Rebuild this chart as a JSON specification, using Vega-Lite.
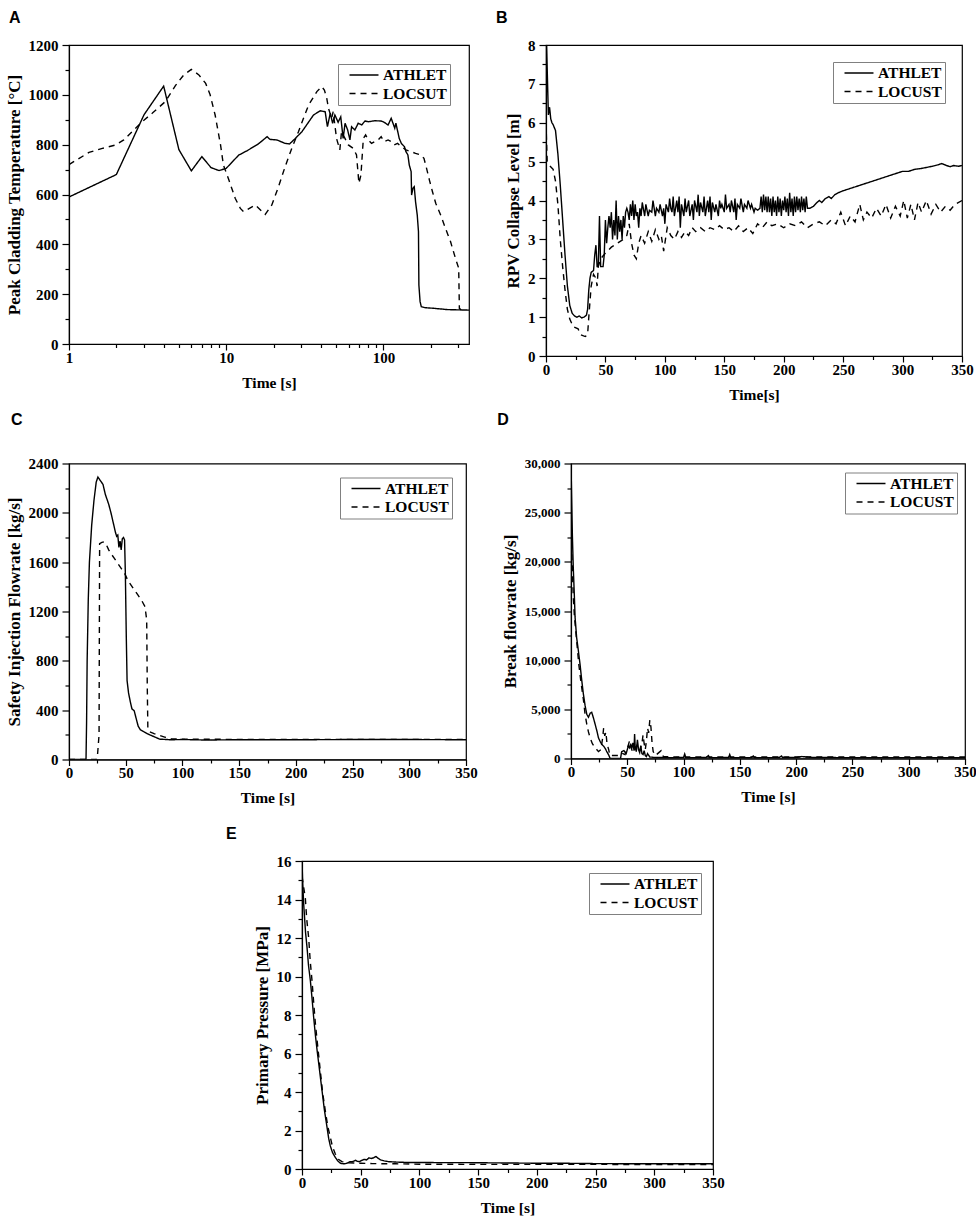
{
 "$schema": "https://vega.github.io/schema/vega-lite/v6.json",
 "background": "white",
 "padding": {"left": 4, "top": 9, "right": 0, "bottom": 0},
 "config": {
  "font": "Liberation Serif",
  "view": {"stroke": "black", "strokeWidth": 1.2},
  "axis": {"domainColor": "black", "domainWidth": 1.2, "tickColor": "black", "tickWidth": 1.2, "labelColor": "black", "titleColor": "black", "labelFont": "Liberation Serif", "titleFont": "Liberation Serif", "labelFontWeight": "bold", "titleFontWeight": "bold", "labelFontSize": 15, "grid": false, "labelFlush": false, "labelOverlap": false},
  "axisX": {"titlePadding": 10, "labelPadding": 0, "titleFontSize": 15.5},
  "axisY": {"titlePadding": 5, "labelPadding": 4, "titleFontSize": 17},
  "legend": {"strokeColor": "#808080", "strokeWidth": 1, "fillColor": "white", "padding": 3, "labelFont": "Liberation Serif", "labelFontWeight": "bold", "labelFontSize": 15.5, "labelColor": "black", "symbolType": "M-2,0H2", "symbolStrokeWidth": 1.5, "symbolSize": 210, "symbolOffset": 15, "labelOffset": 11, "rowPadding": 1.5, "orient": "top-right"},
  "title": {"font": "Liberation Sans", "fontSize": 16, "fontWeight": "bold", "anchor": "start", "frame": "bounds", "color": "black"},
  "line": {"color": "black", "strokeWidth": 1.4}
 },
 "datasets": {
  "A": [
   {"t":1,"v":590,"m":"ATHLET"},{"t":2,"v":680,"m":"ATHLET"},{"t":3,"v":920,"m":"ATHLET"},{"t":4,"v":1035,"m":"ATHLET"},{"t":5,"v":780,"m":"ATHLET"},{"t":6,"v":695,"m":"ATHLET"},{"t":7,"v":752,"m":"ATHLET"},{"t":8,"v":708,"m":"ATHLET"},{"t":9,"v":696,"m":"ATHLET"},{"t":10,"v":705,"m":"ATHLET"},{"t":12,"v":758,"m":"ATHLET"},{"t":13.6,"v":776,"m":"ATHLET"},{"t":16,"v":803,"m":"ATHLET"},{"t":18.2,"v":832,"m":"ATHLET"},{"t":19,"v":821,"m":"ATHLET"},{"t":21,"v":819,"m":"ATHLET"},{"t":23.7,"v":805,"m":"ATHLET"},{"t":25.3,"v":803,"m":"ATHLET"},{"t":27.5,"v":825,"m":"ATHLET"},{"t":30.3,"v":852,"m":"ATHLET"},{"t":35.9,"v":919,"m":"ATHLET"},{"t":39.6,"v":936,"m":"ATHLET"},{"t":42.6,"v":932,"m":"ATHLET"},{"t":44,"v":872,"m":"ATHLET"},{"t":45.9,"v":926,"m":"ATHLET"},{"t":47.5,"v":886,"m":"ATHLET"},{"t":49.1,"v":919,"m":"ATHLET"},{"t":51.5,"v":890,"m":"ATHLET"},{"t":53.5,"v":912,"m":"ATHLET"},{"t":55.4,"v":825,"m":"ATHLET"},{"t":57,"v":886,"m":"ATHLET"},{"t":59.2,"v":859,"m":"ATHLET"},{"t":61.2,"v":819,"m":"ATHLET"},{"t":62.7,"v":872,"m":"ATHLET"},{"t":65.8,"v":859,"m":"ATHLET"},{"t":69.1,"v":886,"m":"ATHLET"},{"t":72.7,"v":879,"m":"ATHLET"},{"t":76.3,"v":895,"m":"ATHLET"},{"t":80.3,"v":892,"m":"ATHLET"},{"t":88,"v":896,"m":"ATHLET"},{"t":96.7,"v":895,"m":"ATHLET"},{"t":101,"v":890,"m":"ATHLET"},{"t":107,"v":879,"m":"ATHLET"},{"t":112,"v":906,"m":"ATHLET"},{"t":118,"v":866,"m":"ATHLET"},{"t":120,"v":886,"m":"ATHLET"},{"t":126,"v":825,"m":"ATHLET"},{"t":130,"v":805,"m":"ATHLET"},{"t":136,"v":792,"m":"ATHLET"},{"t":139,"v":772,"m":"ATHLET"},{"t":143,"v":759,"m":"ATHLET"},{"t":146,"v":718,"m":"ATHLET"},{"t":150,"v":692,"m":"ATHLET"},{"t":151,"v":598,"m":"ATHLET"},{"t":154,"v":625,"m":"ATHLET"},{"t":157,"v":631,"m":"ATHLET"},{"t":160,"v":571,"m":"ATHLET"},{"t":164,"v":518,"m":"ATHLET"},{"t":167,"v":451,"m":"ATHLET"},{"t":168,"v":237,"m":"ATHLET"},{"t":171,"v":170,"m":"ATHLET"},{"t":174,"v":150,"m":"ATHLET"},{"t":183,"v":146,"m":"ATHLET"},{"t":211,"v":143,"m":"ATHLET"},{"t":256,"v":138,"m":"ATHLET"},{"t":350,"v":136,"m":"ATHLET"},
   {"t":1,"v":720,"m":"LOCSUT"},{"t":1.34,"v":769,"m":"LOCSUT"},{"t":1.63,"v":785,"m":"LOCSUT"},{"t":1.98,"v":799,"m":"LOCSUT"},{"t":2.23,"v":819,"m":"LOCSUT"},{"t":2.58,"v":859,"m":"LOCSUT"},{"t":2.92,"v":892,"m":"LOCSUT"},{"t":3.38,"v":926,"m":"LOCSUT"},{"t":4.1,"v":973,"m":"LOCSUT"},{"t":4.75,"v":1037,"m":"LOCSUT"},{"t":5.37,"v":1080,"m":"LOCSUT"},{"t":6,"v":1102,"m":"LOCSUT"},{"t":6.7,"v":1080,"m":"LOCSUT"},{"t":7.4,"v":1046,"m":"LOCSUT"},{"t":7.9,"v":1000,"m":"LOCSUT"},{"t":8.5,"v":919,"m":"LOCSUT"},{"t":9.2,"v":799,"m":"LOCSUT"},{"t":9.6,"v":718,"m":"LOCSUT"},{"t":10.4,"v":658,"m":"LOCSUT"},{"t":11.4,"v":585,"m":"LOCSUT"},{"t":12.3,"v":544,"m":"LOCSUT"},{"t":12.9,"v":531,"m":"LOCSUT"},{"t":15.3,"v":558,"m":"LOCSUT"},{"t":17.7,"v":520,"m":"LOCSUT"},{"t":19.5,"v":558,"m":"LOCSUT"},{"t":21.5,"v":631,"m":"LOCSUT"},{"t":23.7,"v":712,"m":"LOCSUT"},{"t":26.1,"v":785,"m":"LOCSUT"},{"t":28.8,"v":852,"m":"LOCSUT"},{"t":31,"v":906,"m":"LOCSUT"},{"t":33.4,"v":959,"m":"LOCSUT"},{"t":37.7,"v":1013,"m":"LOCSUT"},{"t":40.5,"v":1033,"m":"LOCSUT"},{"t":42.1,"v":1019,"m":"LOCSUT"},{"t":43.6,"v":986,"m":"LOCSUT"},{"t":44.7,"v":946,"m":"LOCSUT"},{"t":46.8,"v":906,"m":"LOCSUT"},{"t":47.9,"v":932,"m":"LOCSUT"},{"t":50.3,"v":825,"m":"LOCSUT"},{"t":52.8,"v":779,"m":"LOCSUT"},{"t":54.1,"v":852,"m":"LOCSUT"},{"t":56.9,"v":825,"m":"LOCSUT"},{"t":59.8,"v":799,"m":"LOCSUT"},{"t":64.2,"v":785,"m":"LOCSUT"},{"t":67.4,"v":759,"m":"LOCSUT"},{"t":69.8,"v":645,"m":"LOCSUT"},{"t":71.9,"v":678,"m":"LOCSUT"},{"t":74.5,"v":825,"m":"LOCSUT"},{"t":77,"v":839,"m":"LOCSUT"},{"t":80,"v":819,"m":"LOCSUT"},{"t":84,"v":805,"m":"LOCSUT"},{"t":88,"v":812,"m":"LOCSUT"},{"t":92.4,"v":819,"m":"LOCSUT"},{"t":96.7,"v":832,"m":"LOCSUT"},{"t":101,"v":812,"m":"LOCSUT"},{"t":107,"v":819,"m":"LOCSUT"},{"t":112,"v":812,"m":"LOCSUT"},{"t":117,"v":799,"m":"LOCSUT"},{"t":123,"v":805,"m":"LOCSUT"},{"t":130,"v":792,"m":"LOCSUT"},{"t":139,"v":779,"m":"LOCSUT"},{"t":150,"v":772,"m":"LOCSUT"},{"t":160,"v":765,"m":"LOCSUT"},{"t":172,"v":759,"m":"LOCSUT"},{"t":181,"v":745,"m":"LOCSUT"},{"t":188,"v":705,"m":"LOCSUT"},{"t":196,"v":658,"m":"LOCSUT"},{"t":205,"v":611,"m":"LOCSUT"},{"t":215,"v":565,"m":"LOCSUT"},{"t":231,"v":518,"m":"LOCSUT"},{"t":248,"v":464,"m":"LOCSUT"},{"t":267,"v":411,"m":"LOCSUT"},{"t":287,"v":344,"m":"LOCSUT"},{"t":301,"v":304,"m":"LOCSUT"},{"t":304,"v":143,"m":"LOCSUT"},{"t":312,"v":136,"m":"LOCSUT"}
  ],
  "B": [
   {"t":0,"v":5.0,"m":"ATHLET"},{"t":0.5,"v":8.0,"m":"ATHLET"},{"t":1.5,"v":6.8,"m":"ATHLET"},{"t":2,"v":6.2,"m":"ATHLET"},{"t":3,"v":6.4,"m":"ATHLET"},{"t":4,"v":6.1,"m":"ATHLET"},{"t":5,"v":6.0,"m":"ATHLET"},{"t":6,"v":5.95,"m":"ATHLET"},{"t":8,"v":5.8,"m":"ATHLET"},{"t":10,"v":5.2,"m":"ATHLET"},{"t":12,"v":4.4,"m":"ATHLET"},{"t":14,"v":3.5,"m":"ATHLET"},{"t":16,"v":2.6,"m":"ATHLET"},{"t":18,"v":1.8,"m":"ATHLET"},{"t":20,"v":1.3,"m":"ATHLET"},{"t":22,"v":1.1,"m":"ATHLET"},{"t":24,"v":1.03,"m":"ATHLET"},{"t":26,"v":1.0,"m":"ATHLET"},{"t":28,"v":1.03,"m":"ATHLET"},{"t":30,"v":0.98,"m":"ATHLET"},{"t":32,"v":1.0,"m":"ATHLET"},{"t":34,"v":1.05,"m":"ATHLET"},{"t":35,"v":1.2,"m":"ATHLET"},{"t":36,"v":1.7,"m":"ATHLET"},{"t":37,"v":2.0,"m":"ATHLET"},{"t":38,"v":2.15,"m":"ATHLET"},{"t":40,"v":2.2,"m":"ATHLET"},{"t":41,"v":2.6,"m":"ATHLET"},{"t":42,"v":2.85,"m":"ATHLET"},{"t":43,"v":2.3,"m":"ATHLET"},{"t":44,"v":2.3,"m":"ATHLET"},{"t":45,"v":3.6,"m":"ATHLET"},{"t":46,"v":2.3,"m":"ATHLET"},{"t":48,"v":2.3,"m":"ATHLET"},{"t":49,"v":2.6,"m":"ATHLET"},{"t":50,"v":3.5,"m":"ATHLET"},{"t":51,"v":2.9,"m":"ATHLET"},{"t":52,"v":3.3,"m":"ATHLET"},{"t":53,"v":3.6,"m":"ATHLET"},{"t":54,"v":3.3,"m":"ATHLET"},{"t":55,"v":3.7,"m":"ATHLET"},{"t":56,"v":3.0,"m":"ATHLET"},{"t":57,"v":3.5,"m":"ATHLET"},{"t":58,"v":3.1,"m":"ATHLET"},{"t":59,"v":4.0,"m":"ATHLET"},{"t":60,"v":3.0,"m":"ATHLET"},{"t":61,"v":3.6,"m":"ATHLET"},{"t":62,"v":3.2,"m":"ATHLET"},{"t":63,"v":3.5,"m":"ATHLET"},{"t":64,"v":3.0,"m":"ATHLET"},{"t":65,"v":3.6,"m":"ATHLET"},{"t":66,"v":3.3,"m":"ATHLET"},{"t":67,"v":3.7,"m":"ATHLET"},{"t":68,"v":3.8,"m":"ATHLET"},{"t":69,"v":3.7,"m":"ATHLET"},{"t":70,"v":3.5,"m":"ATHLET"},{"t":71,"v":3.9,"m":"ATHLET"},{"t":72,"v":3.6,"m":"ATHLET"},{"t":73,"v":4.0,"m":"ATHLET"},{"t":74,"v":3.5,"m":"ATHLET"},{"t":75,"v":3.9,"m":"ATHLET"},{"t":76,"v":3.6,"m":"ATHLET"},{"t":77,"v":3.7,"m":"ATHLET"},{"t":78,"v":3.3,"m":"ATHLET"},{"t":79,"v":3.8,"m":"ATHLET"},{"t":80,"v":3.6,"m":"ATHLET"},{"t":81,"v":3.95,"m":"ATHLET"},{"t":83,"v":3.6,"m":"ATHLET"},{"t":84,"v":3.9,"m":"ATHLET"},{"t":86,"v":3.6,"m":"ATHLET"},{"t":87,"v":3.75,"m":"ATHLET"},{"t":89,"v":3.7,"m":"ATHLET"},{"t":90,"v":4.0,"m":"ATHLET"},{"t":92,"v":3.6,"m":"ATHLET"},{"t":93,"v":3.8,"m":"ATHLET"},{"t":95,"v":3.7,"m":"ATHLET"},{"t":96,"v":3.9,"m":"ATHLET"},{"t":98,"v":3.6,"m":"ATHLET"},{"t":99,"v":3.8,"m":"ATHLET"},{"t":100,"v":3.4,"m":"ATHLET"},{"t":101,"v":3.9,"m":"ATHLET"},{"t":103,"v":3.7,"m":"ATHLET"},{"t":104,"v":4.05,"m":"ATHLET"},{"t":105,"v":3.8,"m":"ATHLET"},{"t":106,"v":3.7,"m":"ATHLET"},{"t":107,"v":4.1,"m":"ATHLET"},{"t":108,"v":3.6,"m":"ATHLET"},{"t":110,"v":4.0,"m":"ATHLET"},{"t":111,"v":3.7,"m":"ATHLET"},{"t":112,"v":4.1,"m":"ATHLET"},{"t":113,"v":3.3,"m":"ATHLET"},{"t":114,"v":3.9,"m":"ATHLET"},{"t":116,"v":3.6,"m":"ATHLET"},{"t":117,"v":4.05,"m":"ATHLET"},{"t":118,"v":3.7,"m":"ATHLET"},{"t":120,"v":4.0,"m":"ATHLET"},{"t":121,"v":3.6,"m":"ATHLET"},{"t":123,"v":3.9,"m":"ATHLET"},{"t":124,"v":3.5,"m":"ATHLET"},{"t":125,"v":4.0,"m":"ATHLET"},{"t":127,"v":3.7,"m":"ATHLET"},{"t":128,"v":4.15,"m":"ATHLET"},{"t":129,"v":3.6,"m":"ATHLET"},{"t":130,"v":3.95,"m":"ATHLET"},{"t":132,"v":3.7,"m":"ATHLET"},{"t":133,"v":4.1,"m":"ATHLET"},{"t":134,"v":3.6,"m":"ATHLET"},{"t":136,"v":4.0,"m":"ATHLET"},{"t":137,"v":3.7,"m":"ATHLET"},{"t":138,"v":4.1,"m":"ATHLET"},{"t":139,"v":3.5,"m":"ATHLET"},{"t":140,"v":3.95,"m":"ATHLET"},{"t":142,"v":3.7,"m":"ATHLET"},{"t":143,"v":3.9,"m":"ATHLET"},{"t":145,"v":3.6,"m":"ATHLET"},{"t":146,"v":4.0,"m":"ATHLET"},{"t":147,"v":3.8,"m":"ATHLET"},{"t":148,"v":3.9,"m":"ATHLET"},{"t":150,"v":3.7,"m":"ATHLET"},{"t":151,"v":4.15,"m":"ATHLET"},{"t":152,"v":3.8,"m":"ATHLET"},{"t":154,"v":3.9,"m":"ATHLET"},{"t":155,"v":3.7,"m":"ATHLET"},{"t":156,"v":4.0,"m":"ATHLET"},{"t":158,"v":3.7,"m":"ATHLET"},{"t":159,"v":4.05,"m":"ATHLET"},{"t":160,"v":3.5,"m":"ATHLET"},{"t":161,"v":3.9,"m":"ATHLET"},{"t":163,"v":3.8,"m":"ATHLET"},{"t":164,"v":4.05,"m":"ATHLET"},{"t":166,"v":3.7,"m":"ATHLET"},{"t":167,"v":3.9,"m":"ATHLET"},{"t":169,"v":3.8,"m":"ATHLET"},{"t":170,"v":4.0,"m":"ATHLET"},{"t":172,"v":3.8,"m":"ATHLET"},{"t":173,"v":3.9,"m":"ATHLET"},{"t":175,"v":3.7,"m":"ATHLET"},{"t":176,"v":3.8,"m":"ATHLET"},{"t":178,"v":3.75,"m":"ATHLET"},{"t":180,"v":3.8,"m":"ATHLET"},{"t":181,"v":4.1,"m":"ATHLET"},{"t":182,"v":3.7,"m":"ATHLET"},{"t":183,"v":4.15,"m":"ATHLET"},{"t":184,"v":3.75,"m":"ATHLET"},{"t":185,"v":4.1,"m":"ATHLET"},{"t":186,"v":3.7,"m":"ATHLET"},{"t":187,"v":4.1,"m":"ATHLET"},{"t":188,"v":3.7,"m":"ATHLET"},{"t":189,"v":4.05,"m":"ATHLET"},{"t":190,"v":3.6,"m":"ATHLET"},{"t":191,"v":4.1,"m":"ATHLET"},{"t":192,"v":3.7,"m":"ATHLET"},{"t":193,"v":4.0,"m":"ATHLET"},{"t":194,"v":3.6,"m":"ATHLET"},{"t":195,"v":4.1,"m":"ATHLET"},{"t":196,"v":3.7,"m":"ATHLET"},{"t":197,"v":4.05,"m":"ATHLET"},{"t":198,"v":3.6,"m":"ATHLET"},{"t":199,"v":4.0,"m":"ATHLET"},{"t":200,"v":3.75,"m":"ATHLET"},{"t":201,"v":4.1,"m":"ATHLET"},{"t":202,"v":3.7,"m":"ATHLET"},{"t":203,"v":4.05,"m":"ATHLET"},{"t":204,"v":3.6,"m":"ATHLET"},{"t":205,"v":4.2,"m":"ATHLET"},{"t":206,"v":3.7,"m":"ATHLET"},{"t":207,"v":4.05,"m":"ATHLET"},{"t":208,"v":3.6,"m":"ATHLET"},{"t":209,"v":4.1,"m":"ATHLET"},{"t":210,"v":3.7,"m":"ATHLET"},{"t":211,"v":4.1,"m":"ATHLET"},{"t":212,"v":3.75,"m":"ATHLET"},{"t":213,"v":4.05,"m":"ATHLET"},{"t":214,"v":3.7,"m":"ATHLET"},{"t":215,"v":4.1,"m":"ATHLET"},{"t":216,"v":3.75,"m":"ATHLET"},{"t":217,"v":4.05,"m":"ATHLET"},{"t":218,"v":3.7,"m":"ATHLET"},{"t":219,"v":4.1,"m":"ATHLET"},{"t":220,"v":3.8,"m":"ATHLET"},{"t":222,"v":3.8,"m":"ATHLET"},{"t":225,"v":3.85,"m":"ATHLET"},{"t":228,"v":3.95,"m":"ATHLET"},{"t":230,"v":4.0,"m":"ATHLET"},{"t":232,"v":3.95,"m":"ATHLET"},{"t":235,"v":4.05,"m":"ATHLET"},{"t":238,"v":4.1,"m":"ATHLET"},{"t":240,"v":4.05,"m":"ATHLET"},{"t":243,"v":4.15,"m":"ATHLET"},{"t":246,"v":4.2,"m":"ATHLET"},{"t":250,"v":4.25,"m":"ATHLET"},{"t":255,"v":4.3,"m":"ATHLET"},{"t":260,"v":4.35,"m":"ATHLET"},{"t":265,"v":4.4,"m":"ATHLET"},{"t":270,"v":4.45,"m":"ATHLET"},{"t":275,"v":4.5,"m":"ATHLET"},{"t":280,"v":4.55,"m":"ATHLET"},{"t":285,"v":4.6,"m":"ATHLET"},{"t":290,"v":4.65,"m":"ATHLET"},{"t":295,"v":4.7,"m":"ATHLET"},{"t":300,"v":4.75,"m":"ATHLET"},{"t":305,"v":4.75,"m":"ATHLET"},{"t":310,"v":4.8,"m":"ATHLET"},{"t":315,"v":4.82,"m":"ATHLET"},{"t":320,"v":4.85,"m":"ATHLET"},{"t":325,"v":4.88,"m":"ATHLET"},{"t":330,"v":4.92,"m":"ATHLET"},{"t":333,"v":4.95,"m":"ATHLET"},{"t":337,"v":4.9,"m":"ATHLET"},{"t":340,"v":4.87,"m":"ATHLET"},{"t":343,"v":4.9,"m":"ATHLET"},{"t":347,"v":4.88,"m":"ATHLET"},{"t":350,"v":4.9,"m":"ATHLET"},
   {"t":0,"v":6.0,"m":"LOCUST"},{"t":1,"v":5.0,"m":"LOCUST"},{"t":3,"v":4.9,"m":"LOCUST"},{"t":6,"v":4.8,"m":"LOCUST"},{"t":8,"v":4.5,"m":"LOCUST"},{"t":10,"v":3.9,"m":"LOCUST"},{"t":12,"v":3.0,"m":"LOCUST"},{"t":14,"v":2.3,"m":"LOCUST"},{"t":16,"v":1.7,"m":"LOCUST"},{"t":18,"v":1.2,"m":"LOCUST"},{"t":20,"v":0.95,"m":"LOCUST"},{"t":23,"v":0.75,"m":"LOCUST"},{"t":27,"v":0.7,"m":"LOCUST"},{"t":29,"v":0.55,"m":"LOCUST"},{"t":33,"v":0.5,"m":"LOCUST"},{"t":35,"v":0.55,"m":"LOCUST"},{"t":36,"v":1.0,"m":"LOCUST"},{"t":37,"v":1.4,"m":"LOCUST"},{"t":38,"v":1.8,"m":"LOCUST"},{"t":40,"v":2.1,"m":"LOCUST"},{"t":42,"v":2.0,"m":"LOCUST"},{"t":43,"v":1.8,"m":"LOCUST"},{"t":44,"v":2.3,"m":"LOCUST"},{"t":46,"v":2.5,"m":"LOCUST"},{"t":50,"v":2.65,"m":"LOCUST"},{"t":55,"v":2.8,"m":"LOCUST"},{"t":60,"v":2.9,"m":"LOCUST"},{"t":65,"v":3.0,"m":"LOCUST"},{"t":68,"v":3.1,"m":"LOCUST"},{"t":70,"v":3.4,"m":"LOCUST"},{"t":72,"v":2.9,"m":"LOCUST"},{"t":74,"v":2.6,"m":"LOCUST"},{"t":76,"v":2.5,"m":"LOCUST"},{"t":78,"v":2.9,"m":"LOCUST"},{"t":80,"v":3.1,"m":"LOCUST"},{"t":83,"v":2.9,"m":"LOCUST"},{"t":86,"v":3.2,"m":"LOCUST"},{"t":89,"v":2.95,"m":"LOCUST"},{"t":92,"v":3.25,"m":"LOCUST"},{"t":95,"v":3.0,"m":"LOCUST"},{"t":97,"v":3.1,"m":"LOCUST"},{"t":99,"v":2.7,"m":"LOCUST"},{"t":102,"v":3.3,"m":"LOCUST"},{"t":105,"v":3.1,"m":"LOCUST"},{"t":108,"v":3.0,"m":"LOCUST"},{"t":111,"v":3.2,"m":"LOCUST"},{"t":114,"v":3.05,"m":"LOCUST"},{"t":117,"v":3.2,"m":"LOCUST"},{"t":120,"v":3.1,"m":"LOCUST"},{"t":123,"v":3.3,"m":"LOCUST"},{"t":126,"v":3.2,"m":"LOCUST"},{"t":130,"v":3.3,"m":"LOCUST"},{"t":134,"v":3.2,"m":"LOCUST"},{"t":138,"v":3.3,"m":"LOCUST"},{"t":142,"v":3.25,"m":"LOCUST"},{"t":146,"v":3.35,"m":"LOCUST"},{"t":150,"v":3.25,"m":"LOCUST"},{"t":154,"v":3.3,"m":"LOCUST"},{"t":158,"v":3.2,"m":"LOCUST"},{"t":162,"v":3.35,"m":"LOCUST"},{"t":166,"v":3.2,"m":"LOCUST"},{"t":170,"v":3.3,"m":"LOCUST"},{"t":174,"v":3.15,"m":"LOCUST"},{"t":178,"v":3.4,"m":"LOCUST"},{"t":182,"v":3.3,"m":"LOCUST"},{"t":186,"v":3.45,"m":"LOCUST"},{"t":190,"v":3.35,"m":"LOCUST"},{"t":195,"v":3.4,"m":"LOCUST"},{"t":200,"v":3.3,"m":"LOCUST"},{"t":205,"v":3.4,"m":"LOCUST"},{"t":210,"v":3.35,"m":"LOCUST"},{"t":215,"v":3.45,"m":"LOCUST"},{"t":220,"v":3.3,"m":"LOCUST"},{"t":225,"v":3.4,"m":"LOCUST"},{"t":230,"v":3.45,"m":"LOCUST"},{"t":235,"v":3.35,"m":"LOCUST"},{"t":240,"v":3.5,"m":"LOCUST"},{"t":244,"v":3.4,"m":"LOCUST"},{"t":248,"v":3.7,"m":"LOCUST"},{"t":252,"v":3.35,"m":"LOCUST"},{"t":256,"v":3.6,"m":"LOCUST"},{"t":260,"v":3.45,"m":"LOCUST"},{"t":264,"v":3.9,"m":"LOCUST"},{"t":267,"v":3.5,"m":"LOCUST"},{"t":270,"v":3.7,"m":"LOCUST"},{"t":274,"v":3.55,"m":"LOCUST"},{"t":278,"v":3.8,"m":"LOCUST"},{"t":282,"v":3.6,"m":"LOCUST"},{"t":286,"v":3.9,"m":"LOCUST"},{"t":290,"v":3.55,"m":"LOCUST"},{"t":294,"v":3.85,"m":"LOCUST"},{"t":298,"v":3.6,"m":"LOCUST"},{"t":301,"v":4.0,"m":"LOCUST"},{"t":304,"v":3.55,"m":"LOCUST"},{"t":307,"v":3.9,"m":"LOCUST"},{"t":310,"v":3.5,"m":"LOCUST"},{"t":313,"v":3.95,"m":"LOCUST"},{"t":316,"v":3.7,"m":"LOCUST"},{"t":320,"v":4.0,"m":"LOCUST"},{"t":324,"v":3.65,"m":"LOCUST"},{"t":328,"v":3.9,"m":"LOCUST"},{"t":332,"v":3.7,"m":"LOCUST"},{"t":336,"v":3.85,"m":"LOCUST"},{"t":340,"v":3.75,"m":"LOCUST"},{"t":344,"v":3.9,"m":"LOCUST"},{"t":350,"v":4.0,"m":"LOCUST"}
  ],
  "C": [
   {"t":0,"v":0,"m":"ATHLET"},{"t":15,"v":0,"m":"ATHLET"},{"t":15.5,"v":300,"m":"ATHLET"},{"t":16,"v":800,"m":"ATHLET"},{"t":17,"v":1300,"m":"ATHLET"},{"t":18,"v":1600,"m":"ATHLET"},{"t":20,"v":1900,"m":"ATHLET"},{"t":22,"v":2100,"m":"ATHLET"},{"t":24,"v":2250,"m":"ATHLET"},{"t":25.5,"v":2290,"m":"ATHLET"},{"t":27,"v":2270,"m":"ATHLET"},{"t":30,"v":2230,"m":"ATHLET"},{"t":32,"v":2150,"m":"ATHLET"},{"t":35,"v":2070,"m":"ATHLET"},{"t":37,"v":2000,"m":"ATHLET"},{"t":39,"v":1920,"m":"ATHLET"},{"t":41,"v":1840,"m":"ATHLET"},{"t":42,"v":1810,"m":"ATHLET"},{"t":43,"v":1820,"m":"ATHLET"},{"t":44,"v":1720,"m":"ATHLET"},{"t":45,"v":1770,"m":"ATHLET"},{"t":46,"v":1700,"m":"ATHLET"},{"t":47,"v":1790,"m":"ATHLET"},{"t":48,"v":1800,"m":"ATHLET"},{"t":49,"v":1780,"m":"ATHLET"},{"t":49.7,"v":1500,"m":"ATHLET"},{"t":50.5,"v":1000,"m":"ATHLET"},{"t":51.2,"v":640,"m":"ATHLET"},{"t":52.5,"v":540,"m":"ATHLET"},{"t":54,"v":470,"m":"ATHLET"},{"t":55.5,"v":410,"m":"ATHLET"},{"t":57.5,"v":395,"m":"ATHLET"},{"t":59,"v":340,"m":"ATHLET"},{"t":61,"v":270,"m":"ATHLET"},{"t":63,"v":240,"m":"ATHLET"},{"t":66,"v":225,"m":"ATHLET"},{"t":70,"v":205,"m":"ATHLET"},{"t":75,"v":185,"m":"ATHLET"},{"t":80,"v":165,"m":"ATHLET"},{"t":90,"v":160,"m":"ATHLET"},{"t":100,"v":162,"m":"ATHLET"},{"t":120,"v":158,"m":"ATHLET"},{"t":150,"v":160,"m":"ATHLET"},{"t":200,"v":160,"m":"ATHLET"},{"t":250,"v":162,"m":"ATHLET"},{"t":300,"v":162,"m":"ATHLET"},{"t":350,"v":160,"m":"ATHLET"},
   {"t":0,"v":0,"m":"LOCUST"},{"t":24,"v":0,"m":"LOCUST"},{"t":25,"v":20,"m":"LOCUST"},{"t":26.5,"v":200,"m":"LOCUST"},{"t":27,"v":1750,"m":"LOCUST"},{"t":29,"v":1760,"m":"LOCUST"},{"t":31,"v":1765,"m":"LOCUST"},{"t":33,"v":1740,"m":"LOCUST"},{"t":35,"v":1700,"m":"LOCUST"},{"t":37,"v":1670,"m":"LOCUST"},{"t":40,"v":1630,"m":"LOCUST"},{"t":43,"v":1590,"m":"LOCUST"},{"t":46,"v":1550,"m":"LOCUST"},{"t":49,"v":1510,"m":"LOCUST"},{"t":52,"v":1450,"m":"LOCUST"},{"t":55,"v":1410,"m":"LOCUST"},{"t":58,"v":1370,"m":"LOCUST"},{"t":61,"v":1330,"m":"LOCUST"},{"t":64,"v":1290,"m":"LOCUST"},{"t":67,"v":1240,"m":"LOCUST"},{"t":68.5,"v":1130,"m":"LOCUST"},{"t":69,"v":600,"m":"LOCUST"},{"t":69.5,"v":260,"m":"LOCUST"},{"t":71,"v":225,"m":"LOCUST"},{"t":75,"v":210,"m":"LOCUST"},{"t":80,"v":195,"m":"LOCUST"},{"t":85,"v":180,"m":"LOCUST"},{"t":90,"v":168,"m":"LOCUST"},{"t":100,"v":165,"m":"LOCUST"},{"t":150,"v":163,"m":"LOCUST"},{"t":200,"v":163,"m":"LOCUST"},{"t":250,"v":163,"m":"LOCUST"},{"t":300,"v":163,"m":"LOCUST"},{"t":350,"v":163,"m":"LOCUST"}
  ],
  "D": [
   {"t":0,"v":30000,"m":"ATHLET"},{"t":0.5,"v":27000,"m":"ATHLET"},{"t":1.2,"v":22800,"m":"ATHLET"},{"t":2,"v":19500,"m":"ATHLET"},{"t":3,"v":16500,"m":"ATHLET"},{"t":3.6,"v":14400,"m":"ATHLET"},{"t":5,"v":12300,"m":"ATHLET"},{"t":6.5,"v":11000,"m":"ATHLET"},{"t":8,"v":9600,"m":"ATHLET"},{"t":9.5,"v":8000,"m":"ATHLET"},{"t":11,"v":6550,"m":"ATHLET"},{"t":12.5,"v":5400,"m":"ATHLET"},{"t":14,"v":4500,"m":"ATHLET"},{"t":15.5,"v":4200,"m":"ATHLET"},{"t":17,"v":4600,"m":"ATHLET"},{"t":18.4,"v":4700,"m":"ATHLET"},{"t":20,"v":4100,"m":"ATHLET"},{"t":21.4,"v":3500,"m":"ATHLET"},{"t":23,"v":2800,"m":"ATHLET"},{"t":24.4,"v":2100,"m":"ATHLET"},{"t":26,"v":1700,"m":"ATHLET"},{"t":27.3,"v":1450,"m":"ATHLET"},{"t":29,"v":1250,"m":"ATHLET"},{"t":30.5,"v":1000,"m":"ATHLET"},{"t":31.8,"v":700,"m":"ATHLET"},{"t":33.5,"v":350,"m":"ATHLET"},{"t":34.8,"v":0,"m":"ATHLET"},{"t":44,"v":0,"m":"ATHLET"},{"t":45,"v":700,"m":"ATHLET"},{"t":47,"v":800,"m":"ATHLET"},{"t":49,"v":500,"m":"ATHLET"},{"t":50,"v":900,"m":"ATHLET"},{"t":51,"v":1300,"m":"ATHLET"},{"t":52,"v":1100,"m":"ATHLET"},{"t":53,"v":1500,"m":"ATHLET"},{"t":54,"v":1000,"m":"ATHLET"},{"t":55,"v":1600,"m":"ATHLET"},{"t":56,"v":800,"m":"ATHLET"},{"t":56.5,"v":2500,"m":"ATHLET"},{"t":57,"v":1200,"m":"ATHLET"},{"t":58,"v":700,"m":"ATHLET"},{"t":59,"v":1900,"m":"ATHLET"},{"t":60,"v":900,"m":"ATHLET"},{"t":61,"v":600,"m":"ATHLET"},{"t":62,"v":1300,"m":"ATHLET"},{"t":63,"v":500,"m":"ATHLET"},{"t":64,"v":400,"m":"ATHLET"},{"t":65,"v":800,"m":"ATHLET"},{"t":66,"v":300,"m":"ATHLET"},{"t":67,"v":200,"m":"ATHLET"},{"t":68,"v":500,"m":"ATHLET"},{"t":70,"v":150,"m":"ATHLET"},{"t":75,"v":100,"m":"ATHLET"},{"t":80,"v":100,"m":"ATHLET"},{"t":90,"v":80,"m":"ATHLET"},{"t":100,"v":120,"m":"ATHLET"},{"t":101,"v":450,"m":"ATHLET"},{"t":102,"v":80,"m":"ATHLET"},{"t":120,"v":100,"m":"ATHLET"},{"t":122,"v":300,"m":"ATHLET"},{"t":123,"v":80,"m":"ATHLET"},{"t":140,"v":100,"m":"ATHLET"},{"t":141,"v":400,"m":"ATHLET"},{"t":142,"v":80,"m":"ATHLET"},{"t":160,"v":90,"m":"ATHLET"},{"t":162,"v":250,"m":"ATHLET"},{"t":163,"v":80,"m":"ATHLET"},{"t":185,"v":100,"m":"ATHLET"},{"t":187,"v":250,"m":"ATHLET"},{"t":188,"v":90,"m":"ATHLET"},{"t":200,"v":110,"m":"ATHLET"},{"t":205,"v":200,"m":"ATHLET"},{"t":210,"v":150,"m":"ATHLET"},{"t":215,"v":100,"m":"ATHLET"},{"t":250,"v":90,"m":"ATHLET"},{"t":300,"v":90,"m":"ATHLET"},{"t":350,"v":90,"m":"ATHLET"},
   {"t":0,"v":23000,"m":"LOCUST"},{"t":1,"v":20000,"m":"LOCUST"},{"t":2,"v":16500,"m":"LOCUST"},{"t":3,"v":14500,"m":"LOCUST"},{"t":5,"v":12000,"m":"LOCUST"},{"t":7,"v":9500,"m":"LOCUST"},{"t":8.7,"v":7900,"m":"LOCUST"},{"t":11,"v":6000,"m":"LOCUST"},{"t":12.5,"v":4500,"m":"LOCUST"},{"t":14,"v":3500,"m":"LOCUST"},{"t":15.5,"v":2700,"m":"LOCUST"},{"t":17,"v":2100,"m":"LOCUST"},{"t":19,"v":1500,"m":"LOCUST"},{"t":21.4,"v":1100,"m":"LOCUST"},{"t":24.4,"v":700,"m":"LOCUST"},{"t":26.5,"v":900,"m":"LOCUST"},{"t":28,"v":2000,"m":"LOCUST"},{"t":29,"v":3100,"m":"LOCUST"},{"t":30,"v":2300,"m":"LOCUST"},{"t":31,"v":2700,"m":"LOCUST"},{"t":32,"v":1500,"m":"LOCUST"},{"t":33.5,"v":900,"m":"LOCUST"},{"t":34.5,"v":300,"m":"LOCUST"},{"t":44,"v":300,"m":"LOCUST"},{"t":46,"v":500,"m":"LOCUST"},{"t":48,"v":400,"m":"LOCUST"},{"t":50,"v":1000,"m":"LOCUST"},{"t":52,"v":1800,"m":"LOCUST"},{"t":53,"v":1200,"m":"LOCUST"},{"t":55,"v":600,"m":"LOCUST"},{"t":57,"v":1000,"m":"LOCUST"},{"t":59,"v":1400,"m":"LOCUST"},{"t":61,"v":800,"m":"LOCUST"},{"t":63,"v":1500,"m":"LOCUST"},{"t":64,"v":2400,"m":"LOCUST"},{"t":65,"v":1500,"m":"LOCUST"},{"t":66,"v":900,"m":"LOCUST"},{"t":67,"v":1800,"m":"LOCUST"},{"t":68,"v":3100,"m":"LOCUST"},{"t":69,"v":2600,"m":"LOCUST"},{"t":70,"v":3900,"m":"LOCUST"},{"t":71,"v":3200,"m":"LOCUST"},{"t":72,"v":1600,"m":"LOCUST"},{"t":73,"v":700,"m":"LOCUST"},{"t":75,"v":300,"m":"LOCUST"},{"t":78,"v":600,"m":"LOCUST"},{"t":80,"v":800,"m":"LOCUST"},{"t":82,"v":200,"m":"LOCUST"},{"t":90,"v":150,"m":"LOCUST"},{"t":100,"v":150,"m":"LOCUST"},{"t":150,"v":150,"m":"LOCUST"},{"t":200,"v":150,"m":"LOCUST"},{"t":250,"v":150,"m":"LOCUST"},{"t":300,"v":150,"m":"LOCUST"},{"t":350,"v":150,"m":"LOCUST"}
  ],
  "E": [
   {"t":0,"v":16,"m":"ATHLET"},{"t":0.5,"v":15,"m":"ATHLET"},{"t":1.4,"v":13.8,"m":"ATHLET"},{"t":3,"v":12.3,"m":"ATHLET"},{"t":4.3,"v":11.5,"m":"ATHLET"},{"t":5.5,"v":10.6,"m":"ATHLET"},{"t":7.1,"v":9.8,"m":"ATHLET"},{"t":8.5,"v":8.9,"m":"ATHLET"},{"t":9.9,"v":7.9,"m":"ATHLET"},{"t":11.5,"v":6.9,"m":"ATHLET"},{"t":12.8,"v":6.2,"m":"ATHLET"},{"t":15,"v":5.1,"m":"ATHLET"},{"t":17,"v":4.1,"m":"ATHLET"},{"t":19,"v":3.1,"m":"ATHLET"},{"t":21.3,"v":2.17,"m":"ATHLET"},{"t":22.7,"v":1.6,"m":"ATHLET"},{"t":24.1,"v":1.2,"m":"ATHLET"},{"t":26,"v":0.85,"m":"ATHLET"},{"t":28.4,"v":0.6,"m":"ATHLET"},{"t":30.5,"v":0.42,"m":"ATHLET"},{"t":32.7,"v":0.3,"m":"ATHLET"},{"t":35,"v":0.27,"m":"ATHLET"},{"t":37,"v":0.28,"m":"ATHLET"},{"t":39,"v":0.32,"m":"ATHLET"},{"t":41,"v":0.38,"m":"ATHLET"},{"t":43,"v":0.38,"m":"ATHLET"},{"t":45.5,"v":0.45,"m":"ATHLET"},{"t":47,"v":0.4,"m":"ATHLET"},{"t":49,"v":0.38,"m":"ATHLET"},{"t":51,"v":0.45,"m":"ATHLET"},{"t":53,"v":0.5,"m":"ATHLET"},{"t":55,"v":0.47,"m":"ATHLET"},{"t":57,"v":0.58,"m":"ATHLET"},{"t":59,"v":0.55,"m":"ATHLET"},{"t":61,"v":0.58,"m":"ATHLET"},{"t":63,"v":0.65,"m":"ATHLET"},{"t":65,"v":0.55,"m":"ATHLET"},{"t":67,"v":0.47,"m":"ATHLET"},{"t":70,"v":0.42,"m":"ATHLET"},{"t":74,"v":0.38,"m":"ATHLET"},{"t":80,"v":0.36,"m":"ATHLET"},{"t":90,"v":0.34,"m":"ATHLET"},{"t":100,"v":0.34,"m":"ATHLET"},{"t":120,"v":0.33,"m":"ATHLET"},{"t":140,"v":0.33,"m":"ATHLET"},{"t":160,"v":0.32,"m":"ATHLET"},{"t":180,"v":0.31,"m":"ATHLET"},{"t":200,"v":0.3,"m":"ATHLET"},{"t":220,"v":0.3,"m":"ATHLET"},{"t":250,"v":0.28,"m":"ATHLET"},{"t":300,"v":0.27,"m":"ATHLET"},{"t":350,"v":0.27,"m":"ATHLET"},
   {"t":0,"v":15.2,"m":"LOCUST"},{"t":1,"v":14.8,"m":"LOCUST"},{"t":2.8,"v":14.1,"m":"LOCUST"},{"t":4,"v":13,"m":"LOCUST"},{"t":5.7,"v":12,"m":"LOCUST"},{"t":7,"v":10.8,"m":"LOCUST"},{"t":8.5,"v":9.8,"m":"LOCUST"},{"t":10,"v":8.6,"m":"LOCUST"},{"t":11.4,"v":7.55,"m":"LOCUST"},{"t":13.5,"v":6.3,"m":"LOCUST"},{"t":15.6,"v":5.1,"m":"LOCUST"},{"t":17.5,"v":4.0,"m":"LOCUST"},{"t":19.9,"v":3.0,"m":"LOCUST"},{"t":22,"v":2.2,"m":"LOCUST"},{"t":24.1,"v":1.65,"m":"LOCUST"},{"t":26,"v":1.15,"m":"LOCUST"},{"t":28.4,"v":0.78,"m":"LOCUST"},{"t":31,"v":0.5,"m":"LOCUST"},{"t":34,"v":0.38,"m":"LOCUST"},{"t":40,"v":0.32,"m":"LOCUST"},{"t":50,"v":0.3,"m":"LOCUST"},{"t":60,"v":0.28,"m":"LOCUST"},{"t":80,"v":0.27,"m":"LOCUST"},{"t":100,"v":0.25,"m":"LOCUST"},{"t":150,"v":0.24,"m":"LOCUST"},{"t":200,"v":0.24,"m":"LOCUST"},{"t":250,"v":0.24,"m":"LOCUST"},{"t":300,"v":0.23,"m":"LOCUST"},{"t":350,"v":0.23,"m":"LOCUST"}
  ]
 },
 "resolve": {"scale": {"strokeDash": "independent"}, "legend": {"strokeDash": "independent"}},
 "columns": 1,
 "align": "none",
 "spacing": 6.5,
 "concat": [
  {
   "concat": [
    {
     "title": {"text": "A", "offset": 12, "dx": 4},
     "width": 400, "height": 299,
     "data": {"name": "A"},
     "mark": {"type": "line", "color": "black", "clip": true},
     "encoding": {
      "x": {"field": "t", "type": "quantitative", "scale": {"type": "log", "domain": [1, 350], "nice": false},
            "axis": {"title": "Time [s]", "values": [1,2,3,4,5,6,7,8,9,10,20,30,40,50,60,70,80,90,100,200,300],
                     "labelExpr": "datum.value === 1 || datum.value === 10 || datum.value === 100 ? format(datum.value, 'd') : ''",
                     "tickSize": {"condition": {"test": "datum.value !== 1 && datum.value !== 10 && datum.value !== 100", "value": 3.5}, "value": 6}}},
      "y": {"field": "v", "type": "quantitative", "scale": {"domain": [0, 1200], "nice": false},
            "axis": {"title": "Peak Cladding Temperature [°C]", "values": [0,100,200,300,400,500,600,700,800,900,1000,1100,1200],
                     "labelExpr": "datum.value % 200 === 0 ? format(datum.value, 'd') : ''",
                     "tickSize": {"condition": {"test": "datum.value % 200 !== 0", "value": 4}, "value": 7}}},
      "strokeDash": {"field": "m", "type": "nominal", "scale": {"domain": ["ATHLET", "LOCSUT"], "range": [[1, 0], [6, 5]]}, "legend": {"title": null, "offset": 19}}
     }
    },
    {
     "title": {"text": "B", "offset": 12, "dx": -8.5},
     "width": 416, "height": 311,
     "data": {"name": "B"},
     "mark": {"type": "line", "color": "black", "clip": true},
     "encoding": {
      "x": {"field": "t", "type": "quantitative", "scale": {"domain": [0, 350], "nice": false},
            "axis": {"title": "Time[s]", "values": [0,25,50,75,100,125,150,175,200,225,250,275,300,325,350],
                     "labelExpr": "datum.value % 50 === 0 ? format(datum.value, 'd') : ''",
                     "tickSize": {"condition": {"test": "datum.value % 50 !== 0", "value": 3.5}, "value": 6}}},
      "y": {"field": "v", "type": "quantitative", "scale": {"domain": [0, 8], "nice": false},
            "axis": {"title": "RPV Collapse Level [m]", "values": [0,0.5,1,1.5,2,2.5,3,3.5,4,4.5,5,5.5,6,6.5,7,7.5,8],
                     "labelExpr": "datum.value % 1 === 0 ? format(datum.value, 'd') : ''",
                     "tickSize": {"condition": {"test": "datum.value % 1 !== 0", "value": 4}, "value": 7}}},
      "strokeDash": {"field": "m", "type": "nominal", "scale": {"domain": ["ATHLET", "LOCUST"], "range": [[1, 0], [6, 5]]}, "legend": {"title": null, "offset": 17}}
     }
    }
   ],
   "columns": 2, "bounds": "flush", "spacing": 77,
   "resolve": {"scale": {"strokeDash": "independent"}, "legend": {"strokeDash": "independent"}}
  },
  {
   "concat": [
    {
     "concat": [
      {
       "title": {"text": "C", "offset": 28.5, "dx": 6},
       "width": 397, "height": 296,
       "data": {"name": "C"},
       "mark": {"type": "line", "color": "black", "clip": true},
       "encoding": {
        "x": {"field": "t", "type": "quantitative", "scale": {"domain": [0, 350], "nice": false},
              "axis": {"title": "Time [s]", "values": [0,25,50,75,100,125,150,175,200,225,250,275,300,325,350],
                       "labelExpr": "datum.value % 50 === 0 ? format(datum.value, 'd') : ''",
                       "tickSize": {"condition": {"test": "datum.value % 50 !== 0", "value": 3.5}, "value": 6}}},
        "y": {"field": "v", "type": "quantitative", "scale": {"domain": [0, 2400], "nice": false},
              "axis": {"title": "Safety Injection Flowrate [kg/s]", "values": [0,200,400,600,800,1000,1200,1400,1600,1800,2000,2200,2400],
                       "labelExpr": "datum.value % 400 === 0 ? format(datum.value, 'd') : ''",
                       "tickSize": {"condition": {"test": "datum.value % 400 !== 0", "value": 4}, "value": 7}}},
        "strokeDash": {"field": "m", "type": "nominal", "scale": {"domain": ["ATHLET", "LOCUST"], "range": [[1, 0], [6, 5]]}, "legend": {"title": null, "offset": 14}}
       }
      },
      {
       "title": {"text": "D", "offset": 29.5, "dx": -4},
       "width": 394, "height": 295,
       "data": {"name": "D"},
       "mark": {"type": "line", "color": "black", "clip": true},
       "encoding": {
        "x": {"field": "t", "type": "quantitative", "scale": {"domain": [0, 350], "nice": false},
              "axis": {"title": "Time [s]", "values": [0,25,50,75,100,125,150,175,200,225,250,275,300,325,350],
                       "labelExpr": "datum.value % 50 === 0 ? format(datum.value, 'd') : ''",
                       "tickSize": {"condition": {"test": "datum.value % 50 !== 0", "value": 3.5}, "value": 6}}},
        "y": {"field": "v", "type": "quantitative", "scale": {"domain": [0, 30000], "nice": false},
              "axis": {"title": "Break flowrate [kg/s]", "labelFontSize": 13, "values": [0,2500,5000,7500,10000,12500,15000,17500,20000,22500,25000,27500,30000],
                       "labelExpr": "datum.value % 5000 === 0 ? format(datum.value, ',d') : ''",
                       "tickSize": {"condition": {"test": "datum.value % 5000 !== 0", "value": 4}, "value": 7}}},
        "strokeDash": {"field": "m", "type": "nominal", "scale": {"domain": ["ATHLET", "LOCUST"], "range": [[1, 0], [6, 5]]}, "legend": {"title": null, "offset": 8.5}}
       }
      }
     ],
     "columns": 2, "bounds": "flush", "spacing": 105,
     "resolve": {"scale": {"strokeDash": "independent"}, "legend": {"strokeDash": "independent"}}
    },
    {
     "concat": [
      {"width": 233, "height": 10, "data": {"values": []}, "mark": {"type": "point"}, "view": {"stroke": null}},
      {
       "title": {"text": "E", "offset": 12.5, "dx": -27},
       "width": 411, "height": 308,
       "data": {"name": "E"},
       "mark": {"type": "line", "color": "black", "clip": true},
       "encoding": {
        "x": {"field": "t", "type": "quantitative", "scale": {"domain": [0, 350], "nice": false},
              "axis": {"title": "Time [s]", "values": [0,25,50,75,100,125,150,175,200,225,250,275,300,325,350],
                       "labelExpr": "datum.value % 50 === 0 ? format(datum.value, 'd') : ''",
                       "tickSize": {"condition": {"test": "datum.value % 50 !== 0", "value": 3.5}, "value": 6}}},
        "y": {"field": "v", "type": "quantitative", "scale": {"domain": [0, 16], "nice": false},
              "axis": {"title": "Primary Pressure [MPa]", "values": [0,1,2,3,4,5,6,7,8,9,10,11,12,13,14,15,16],
                       "labelExpr": "datum.value % 2 === 0 ? format(datum.value, 'd') : ''",
                       "tickSize": {"condition": {"test": "datum.value % 2 !== 0", "value": 4}, "value": 7}}},
        "strokeDash": {"field": "m", "type": "nominal", "scale": {"domain": ["ATHLET", "LOCUST"], "range": [[1, 0], [6, 5]]}, "legend": {"title": null, "offset": 12}}
       }
      }
     ],
     "columns": 2, "bounds": "flush", "spacing": 0,
     "resolve": {"scale": {"strokeDash": "independent"}, "legend": {"strokeDash": "independent"}}
    }
   ],
   "columns": 1, "spacing": 16.5,
   "resolve": {"scale": {"strokeDash": "independent"}, "legend": {"strokeDash": "independent"}}
  }
 ]
}
